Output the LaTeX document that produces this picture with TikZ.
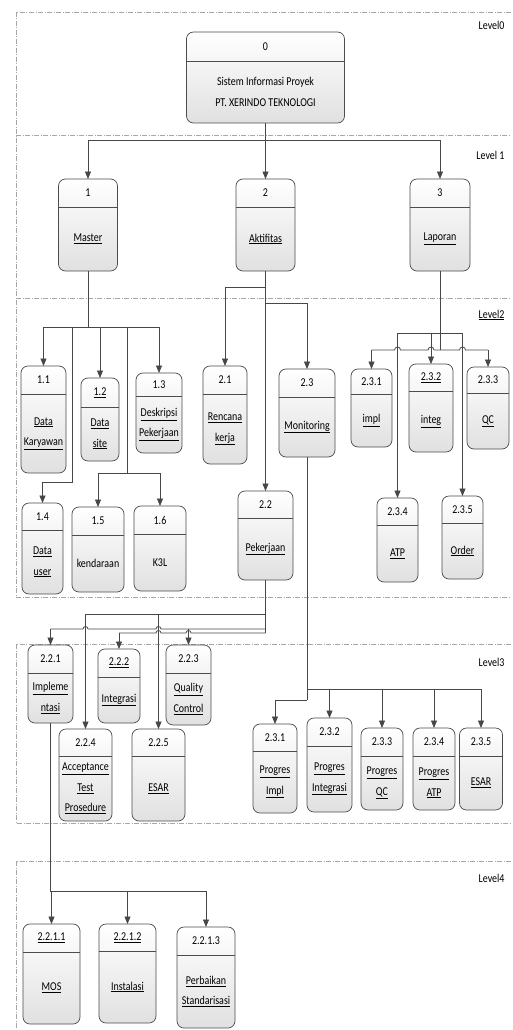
\documentclass[tikz,border=0pt]{standalone}
\usepackage{fontspec}
\setmainfont{Carlito}[FakeStretch=0.83]
\usetikzlibrary{arrows.meta}
\newcommand{\lnk}[1]{\underline{#1}}

\begin{document}
\begin{tikzpicture}[x=1pt,y=-1pt,
    procbox/.style={draw=black!70, line width=0.7pt, rounded corners=7pt, top color=white, bottom color=black!12, inner sep=0pt, outer sep=0pt},
    procline/.style={draw=black!70, line width=0.7pt},
    boxtext/.style={font=\fontsize{12}{20.5}\selectfont, align=center, text=black},
    conn/.style={draw=black!72, line width=0.8pt, -{Triangle[length=7.5pt,width=6pt]}},
    bus/.style={draw=black!72, line width=0.8pt},
    levelframe/.style={draw=black!35, line width=0.6pt, dash pattern=on 5pt off 1.5pt on 1pt off 1.5pt},
    leveltext/.style={font=\fontsize{12}{13}\selectfont, anchor=east, text=black}]

    % Page
    \fill[white] (0,0) rectangle (512,1030);
    \useasboundingbox (0,0) rectangle (512,1030);

    % Level frames
    \draw[levelframe] (511,12) -- (16,12) -- (16,597) -- (511,597);
    \draw[levelframe] (16,135) -- (511,135);
    \draw[levelframe] (16,298) -- (511,298);
    \draw[levelframe] (511,644) -- (16,644) -- (16,823) -- (511,823);
    \draw[levelframe] (511,861) -- (16,861) -- (16,1030);

    \node[leveltext] (lvl0) at (508,25) {Level0};
    \node[leveltext] (lvl1) at (508,155) {Level 1};
    \node[leveltext] (lvl2) at (508,315) {\lnk{Level2}};
    \node[leveltext] (lvl3) at (508,662) {Level3};
    \node[leveltext] (lvl4) at (508,878) {Level4};

    % Process boxes: name/centre x/width/top/bottom/header/number/text
    \foreach \nm/\cx/\bw/\yt/\yb/\yh/\num/\txt in {
        p0/265.5/158/32/123/61/0/{Sistem Informasi Proyek\\PT. XERINDO TEKNOLOGI},
        p1/88/59/179/271/207/1/{\lnk{Master}},
        p2/265.5/59/179/271/207/2/{\lnk{Aktifitas}},
        p3/440/60/179/271/207/3/{\lnk{Laporan}},
        p11/43.5/45/366/473/394/1.1/{\lnk{Data}\\\lnk{Karyawan}},
        p12/100/38/378/461/407/{\lnk{1.2}}/{\lnk{Data}\\\lnk{site}},
        p13/159/46/373/453/396/1.3/{\lnk{Deskripsi}\\\lnk{Pekerjaan}},
        p14/42.5/41/503/594/530/1.4/{\lnk{Data}\\\lnk{user}},
        p15/98/52/507/592/535/1.5/kendaraan,
        p16/160/52/506/591/534/1.6/K3L,
        p21/225/44/366/464/394/2.1/{\lnk{Rencana}\\\lnk{kerja}},
        p22/265.5/55/491/580/518/2.2/{\lnk{Pekerjaan}},
        p23/307/56/369/457/397/2.3/{\lnk{Monitoring}},
        p231/371.5/41/369/447/394/2.3.1/{\lnk{impl}},
        p232/431/44/364/452/391/{\lnk{2.3.2}}/{\lnk{integ}},
        p233/488/42/367/449/393/2.3.3/{\lnk{QC}},
        p234/397.5/41/498/582/525/2.3.4/{\lnk{ATP}},
        p235/462.5/41/496/579/523/2.3.5/{\lnk{Order}},
        p221/50.5/45/645/723/673/2.2.1/{\lnk{Impleme}\\\lnk{ntasi}},
        p222/119/42/649/723/677/{\lnk{2.2.2}}/{\lnk{Integrasi}},
        p223/188.5/45/645/725/673/2.2.3/{\lnk{Quality}\\\lnk{Control}},
        p224/85.5/53/729/821/756/2.2.4/{\lnk{Acceptance}\\\lnk{Test}\\\lnk{Prosedure}},
        p225/158.5/53/729/821/756/2.2.5/{\lnk{ESAR}},
        q231/275/44/724/813/751/2.3.1/{\lnk{Progres}\\\lnk{Impl}},
        q232/329.5/45/718/812/746/2.3.2/{\lnk{Progres}\\\lnk{Integrasi}},
        q233/382/42/728/810/756/2.3.3/{\lnk{Progres}\\\lnk{QC}},
        q234/434/42/728/810/756/2.3.4/{\lnk{Progres}\\\lnk{ATP}},
        q235/481/43/728/810/756/2.3.5/{\lnk{ESAR}},
        p2211/51.5/57/924/1024/952/{\lnk{2.2.1.1}}/{\lnk{MOS}},
        p2212/127.5/57/924/1023/951/{\lnk{2.2.1.2}}/{\lnk{Instalasi}},
        p2213/206/58/927/1028/955/2.2.1.3/{\lnk{Perbaikan}\\\lnk{Standarisasi}}}{
        \node[procbox, minimum width=\bw pt, minimum height={(\yb-\yt)*1pt}] (\nm) at (\cx,{(\yt+\yb)/2}) {};
        \draw[procline] (\nm.west |- 0,\yh) -- (\nm.east |- 0,\yh);
        \node[boxtext] (\nm-num) at (\cx,{(\yt+\yh)/2}) {\num};
        \node[boxtext] (\nm-txt) at (\cx,{(\yh+\yb)/2}) {\txt};
    }

    % Level 0 to level 1
    \coordinate (lv0) at (p0.south |- 0,140);
    \draw[bus] (p0.south) -- (lv0);
    \draw[bus] (p1.north |- lv0) -- (p3.north |- lv0);
    \foreach \nm in {p1,p2,p3}
        \draw[conn] (\nm.north |- lv0) -- (\nm.north);

    % Master
    \coordinate (msA) at (p1.south |- 0,327);
    \coordinate (msB) at (72,327);
    \coordinate (msC) at (127,327);
    \draw[bus] (p1.south) -- (msA);
    \draw[bus] (p11.north |- msA) -- (p13.north |- msA);
    \foreach \nm in {p11,p12,p13}
        \draw[conn] (\nm.north |- msA) -- (\nm.north);
    \draw[conn] (msB) -- (msB |- 0,482) -| (p14.north);
    \draw[bus] (msC) -- (msC |- 0,473);
    \draw[bus] (p15.north |- 0,473) -- (p16.north |- 0,473);
    \foreach \nm in {p15,p16}
        \draw[conn] (\nm.north |- 0,473) -- (\nm.north);

    % Aktifitas
    \draw[conn] (p2.south) -- (p22.north);
    \draw[conn] (p2.south |- 0,287) -| (p21.north);
    \draw[conn] (p2.south |- 0,303) -| (p23.north);

    % Laporan
    \coordinate (lapA) at (p3.south |- 0,333);
    \coordinate (lapB) at (p3.south |- 0,350);
    \coordinate (lj1) at (p234.north |- lapB);
    \coordinate (lj2) at (p232.north |- lapB);
    \coordinate (lj3) at (p235.north |- lapB);
    \draw[bus] (p3.south) -- (lapB);
    \draw[bus] (p234.north |- lapA) -- (p235.north |- lapA);
    \foreach \nm in {p232,p234,p235}
        \draw[conn] (\nm.north |- lapA) -- (\nm.north);
    \draw[bus] (p231.north |- lapB) -- ([xshift=-3pt]lj1) arc[start angle=180, end angle=360, radius=3]
        -- ([xshift=-3pt]lj2) arc[start angle=180, end angle=360, radius=3]
        -- ([xshift=-3pt]lj3) arc[start angle=180, end angle=360, radius=3]
        -- (p233.north |- lapB);
    \foreach \nm in {p231,p233}
        \draw[conn] (\nm.north |- lapB) -- (\nm.north);

    % Pekerjaan
    \coordinate (pkA) at (p22.south |- 0,614);
    \coordinate (pkB) at (p22.south |- 0,629);
    \coordinate (pkC) at (p22.south |- 0,633);
    \coordinate (bj1) at (p224.north |- pkB);
    \coordinate (bj2) at (p225.north |- pkB);
    \coordinate (cj1) at (p225.north |- pkC);
    \coordinate (cj2) at (p223.north |- pkC);
    \draw[bus] (p22.south) -- (pkC);
    \draw[bus] (p224.north |- pkA) -- (pkA);
    \foreach \nm in {p224,p225}
        \draw[conn] (\nm.north |- pkA) -- (\nm.north);
    \draw[bus] (p221.north |- pkB) -- ([xshift=-2.5pt]bj1) arc[start angle=180, end angle=360, radius=2.5]
        -- ([xshift=-2.5pt]bj2) arc[start angle=180, end angle=360, radius=2.5] -- (pkB);
    \foreach \nm in {p221,p223}
        \draw[conn] (\nm.north |- pkB) -- (\nm.north);
    \draw[bus] (p222.north |- pkC) -- ([xshift=-2.5pt]cj1) arc[start angle=180, end angle=360, radius=2.5]
        -- ([xshift=-2.5pt]cj2) arc[start angle=180, end angle=360, radius=2.5] -- (pkC);
    \draw[conn] (p222.north |- pkC) -- (p222.north);

    % Monitoring
    \coordinate (mnA) at (p23.south |- 0,689);
    \coordinate (mnB) at (p23.south |- 0,700);
    \draw[bus] (p23.south) -- (mnB);
    \draw[bus] (mnA) -- (q235.north |- mnA);
    \foreach \nm in {q232,q233,q234,q235}
        \draw[conn] (\nm.north |- mnA) -- (\nm.north);
    \draw[conn] (mnB) -| (q231.north);

    % Implementasi
    \coordinate (imA) at (p221.south |- 0,891);
    \draw[bus] (p221.south) -- (imA) -- (p2213.north |- imA);
    \foreach \nm in {p2211,p2212,p2213}
        \draw[conn] (\nm.north |- imA) -- (\nm.north);

\end{tikzpicture}
\end{document}
